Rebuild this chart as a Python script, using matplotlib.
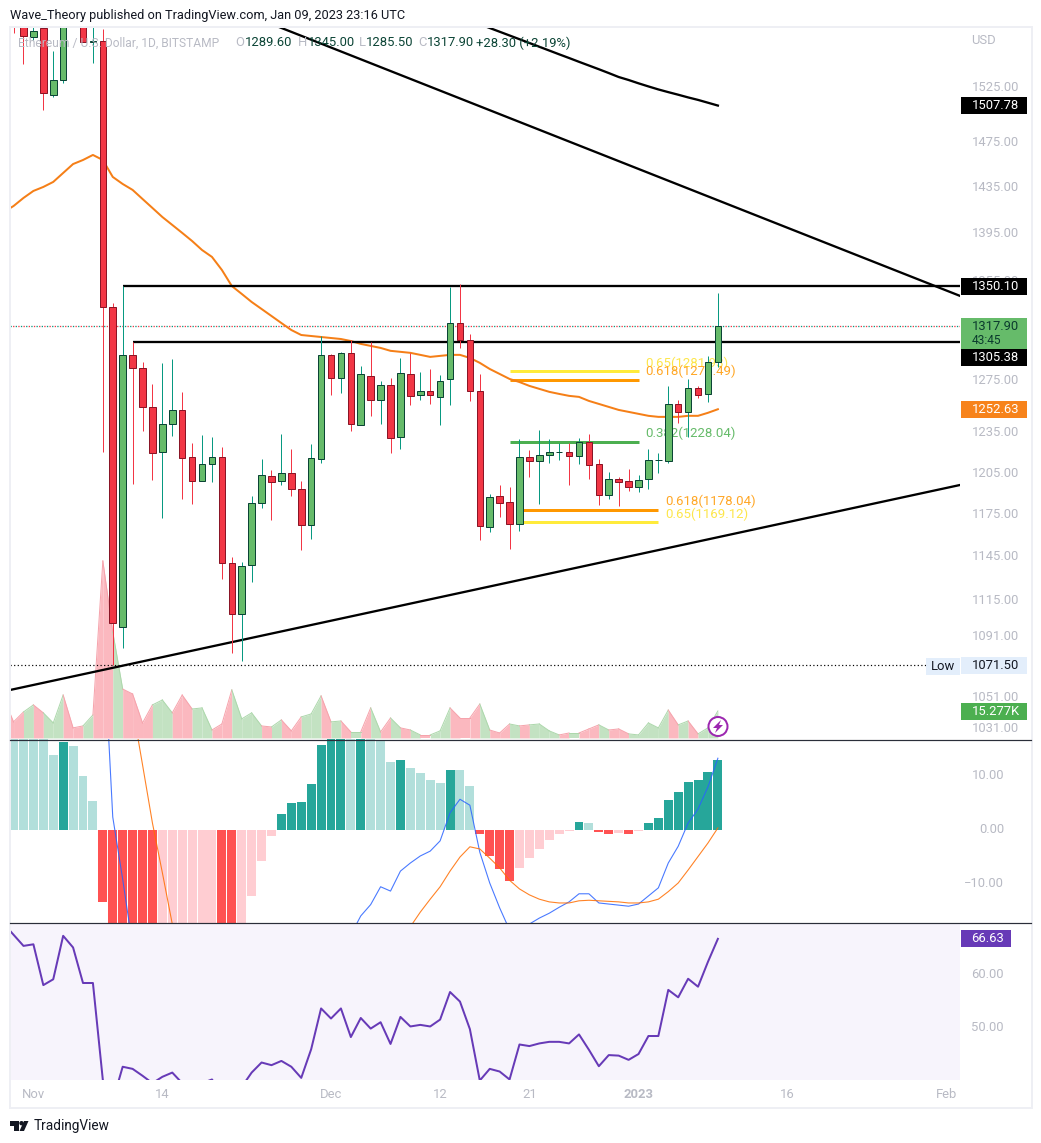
import numpy as np
import matplotlib
matplotlib.use("Agg")
import matplotlib.pyplot as plt
from matplotlib.patches import Rectangle, Circle, Polygon
from matplotlib.transforms import ScaledTranslation

plt.rcParams['font.family'] = ['Roboto', 'DejaVu Sans']

W, H = 1041, 1143
FIRST_DAY = -3   # day number relative to 1 Nov 2022

opens = [1630,1600,1590,1572.3,1581,1517.6,1531.5,1610,1600,1567.5,1568.4,
 1333.3,1096.7,1294.9,1284.6,1254.4,1220.5,1241.5,1252.1,1216.7,1199,1211.5,1216.7,1140.4,1105.4,1139,1183,1202.6,1199,1204.9,1193.1,1167.2,
 1215.2,1294.9,1276.8,1296.5,1240.7,1278.4,1259.8,1271.4,1231.7,1279.9,1263.6,1266.7,1262.1,1276,1320.3,1306.7,1266.7,1165.8,1188,1183.7,
 1167.9,1216.7,1213.7,1218.2,1220.1,1220.5,1217.4,1228,1211.5,1188.8,1200.4,1199,1194.6,1200.4,1214.5,1213.7,1256.7,1250.6,1269,1264.4,1289.6]
highs = [1640,1610,1600,1585,1590,1558.9,1600,1620,1610,1590,1580,
 1336.6,1350.1,1305.2,1289.4,1272.1,1288.6,1291.7,1266,1227.2,1233.2,1231.7,1224.2,1144.6,1141.1,1188,1215.2,1207.1,1234,1222.7,1199,1226.4,
 1309.9,1295.7,1297.3,1306.7,1286.2,1305.2,1274.5,1276.8,1292.5,1296.5,1281.5,1283.8,1279.1,1349.7,1352.2,1311.5,1279.9,1189.5,1196.1,1194.6,
 1230.2,1222,1237,1230.2,1227.2,1227.2,1231,1234,1215.2,1205.6,1201.9,1207.8,1203.4,1222.7,1219.7,1270.6,1259.8,1276,1270.6,1294.1,1345]
lows = [1600,1576,1546.5,1569.3,1503.6,1515.7,1528.7,1585,1567.5,1547.4,1220,
 1071.5,1082.7,1196.8,1236.2,1199.7,1172.2,1232.5,1185.9,1182.3,1199,1198.3,1129.3,1079.4,1074.2,1127.2,1179.4,1170.8,1196.1,1188,1149.5,1157.3,
 1212.2,1263.6,1265.2,1236.2,1240.7,1247.6,1241.5,1219.7,1222.7,1255.9,1259.8,1256.7,1240.7,1255.9,1300.4,1259,1156.6,1162.2,1172.9,1150.2,
 1162.9,1201.9,1182.3,1212.2,1214.5,1196.1,1211.5,1200.4,1181.6,1185.9,1180.8,1191.7,1191,1193.1,1204.9,1212.2,1242.3,1231.7,1261.3,1258.2,1285.5]
closes = [1610,1590,1573.2,1578,1519.4,1531.5,1590,1590,1567.5,1568.4,1333.5,
 1099.3,1294.9,1284.6,1254.4,1219.7,1241.5,1252.1,1216,1199,1211.5,1216.7,1140.4,1105.4,1138.3,1183,1203.4,1198.3,1204.9,1193.1,1167.2,1216,
 1294.9,1276.8,1296.5,1241.5,1279.9,1259.8,1271.4,1231,1280.7,1262.9,1266.7,1263.6,1274.5,1320.3,1306.7,1266.7,1166.5,1187.3,1183,1167.9,
 1216.7,1213.7,1218.2,1220.5,1220.1,1217.4,1228,1210.8,1188.8,1200.4,1198.3,1194.6,1199.7,1214.5,1214.5,1256.7,1250.6,1269,1263.6,1289.4,1317.9]

ema50 = [1412.9,1418.1,1425.1,1431.2,1434.7,1439.1,1447,1454.9,1458.5,1463,1458.5,
 1443.5,1437.3,1432.1,1424.2,1416.4,1408.6,1401.8,1395,1388.1,1380.5,1374.7,1363.8,1350.5,1344,1337.4,1331.7,1326,1320.3,1314.7,1310.7,1309.9,
 1309.1,1308.3,1307.5,1305.9,1303.6,1302,1300.4,1298.1,1297.3,1296.5,1294.9,1293.3,1294.1,1294.9,1294.9,1292.5,1288.6,1283.8,1279.9,1276,
 1273.6,1270.6,1268.3,1266,1264.4,1262.9,1262.1,1259,1256.7,1254.4,1252.1,1250.6,1249.1,1247.6,1246.8,1246.8,1246.8,1247.6,1247.6,1249.9,1252.63]

ma200_days = list(range(45, 70))
ma200 = [1584.6,1580.9,1577.3,1573.7,1570.1,1566.5,1562.9,1559.3,1555.7,1552.2,1548.6,1545.1,1541.6,1538,1534.3,1531.5,1528.4,1525.5,1522.7,1520.2,1517.8,1515.3,1513,1510.4,1507.78]

volume_k = [22.6,9.1,14.7,18.7,14.2,8.5,24.3,5.7,6.8,13,100.2,
 60,27.7,24.9,8.5,18.7,21.5,14.2,24.3,16.4,17,4.5,7.9,27.2,10.8,14.2,6.8,6.2,10.2,4,11.9,13.6,
 23.8,9.1,9.6,3.4,3.4,17,3.4,11.3,5.7,4.5,1.7,1.7,4,17,11.3,11.3,19.2,4.5,2.8,7.9,
 6.8,7.4,7.9,4,1.7,2.8,2.8,5.1,7.4,4.5,5.1,2.3,1.7,8.5,5.7,15.8,7.4,9.6,2.3,5.7,15.277]

macd_hist = [27,26,25,24,22,13.8,16.2,15.4,9.9,5.2,-13.4,
 -22,-26,-30,-33,-35,-33,-31,-29,-27,-25,-23,-24,-25,-20,-12.3,-5.8,-1.2,2.8,4.9,5.1,8.4,
 15.6,18,20,19,20,18,16.4,12.5,12.8,11.4,10.4,9.1,8.6,11,11,8,-0.9,-4.9,-7.3,-9.6,
 -7.2,-5.3,-3.6,-2,-0.9,-0.2,1.4,1.2,-0.5,-0.75,-0.7,-0.75,-0.3,1.2,2.1,5.4,6.9,8.8,9.1,10.6,12.8]
macd_line = [60,58,56,54,52,50,48,46,44,42,38,
 2.3,-9.2,-21.6,-27,-32,-32,-31,-31,-30,-30,-29,-29,-29,-28,-28,-27,-27,-26,-26,-25,-25,
 -24,-24,-23,-19.5,-16,-13.9,-10.6,-11.4,-7.7,-6.2,-4.9,-4,-2.1,3.1,5.6,4.5,-4.2,-9.9,-14.5,-18.6,
 -19.5,-17.5,-16.4,-15.5,-14.4,-13.4,-11.9,-11.9,-13.6,-13.8,-14,-14.2,-13.8,-12.3,-10.8,-6.2,-3.1,1.2,3.8,7.9,13.2]
macd_signal = [70,68,66,64,62,60,58,56,54,50,46,
 44,33,22.7,12,1.2,-8,-17.5,-24,-27,-29,-30,-30,-30,-30,-30,-30,-30,-29,-29,-28,-28,
 -28,-27,-27,-26,-25,-25,-24,-23,-22,-18,-15.3,-12.9,-10.6,-7.7,-5.1,-3.2,-3.6,-5.3,-7.1,-9.4,
 -11,-12.1,-12.9,-13.4,-13.6,-13.6,-13.2,-13.1,-13.2,-13.3,-13.4,-13.6,-13.6,-13.4,-12.9,-11.5,-9.9,-7.5,-5,-2.5,0.3]

rsi = [69.5,67.4,65.3,65.6,57.9,59,67.2,65,58.3,58.3,40,
 36,42.5,42.1,40.8,39.4,40.6,41.4,39.4,38.7,39.4,40.1,37.5,36.9,38.7,41.4,43.3,42.8,43.6,42.5,40.4,45.8,
 53.5,51.6,53.5,48.1,51.7,49.7,50.9,46.8,51.9,50.1,50.4,50.1,51.4,56.6,54.8,49.6,39.9,42.1,41.6,40.1,
 46.7,46.4,46.9,47.2,47.2,46.9,48.6,45.7,42.6,44.7,44.6,43.8,44.9,48.3,48.3,57,55.6,59.1,57.6,62.3,66.63]

price_ticks = [1525,1475,1435,1395,1355,1315,1275,1235,1205,1175,1145,1115,1091,1051,1031]
macd_ticks = [10, 0, -10]
rsi_ticks = [60, 50]
date_ticks = [0, 13, 30, 41, 50, 61, 76, 92]
date_labels = ['Nov', '14', 'Dec', '12', '21', '2023', '16', 'Feb']

fib_rows = [('0.65(1281.93)', 1281.93, 48, 61, '#FFEB3B', '#FDE64B'),
            ('0.618(1275.49)', 1275.49, 48, 61, '#FF9800', '#FFA726'),
            ('0.382(1228.04)', 1228.04, 48, 61, '#4CAF50', '#66BB6A'),
            ('0.618(1178.04)', 1178.04, 49, 63, '#FF9800', '#FFA726'),
            ('0.65(1169.12)', 1169.12, 49, 63, '#FFEB3B', '#FDE64B')]
res_high, res_low, last_low = 1350.10, 1305.38, 1071.50
trend_up = ((24.75, 93.4), (1581.9, 1342.4))
trend_lo = ((-2.36, 93.4), (1055.3, 1196))

UP, DOWN = '#66BB6A', '#F23645'
UP_E, DOWN_E = '#0B4435', '#8A1526'
WICK_U, WICK_D = '#089981', '#F23645'
TICK = '#B8BAC4'
PX = 0.72

days = np.arange(FIRST_DAY, FIRST_DAY + len(closes))
XLIM = ((10 - 33.4) / 9.92, (960 - 33.4) / 9.92)

def axes_px(l, t, r, b, **kw):
    return fig.add_axes([l / W, 1 - b / H, (r - l) / W, (b - t) / H], **kw)

def nudge_labels(a, px):
    off = ScaledTranslation(0, px / 100, fig.dpi_scale_trans)
    for lbl in a.get_yticklabels():
        lbl.set_transform(lbl.get_transform() + off)

fig = plt.figure(figsize=(W / 100, H / 100), dpi=100, facecolor='white')

# ---- volume (own scale, under the price pane)
ax_v = axes_px(10, 28, 960, 739)
ax_v.set_zorder(1)
ax_v.set_xlim(*XLIM)
ax_v.set_ylim(-0.6, 402)
ax_v.axis('off')
vol = np.array(volume_k)
for i in range(len(vol) - 1):
    up = closes[i + 1] >= opens[i + 1]
    seg = [days[i], days[i + 1]]
    ax_v.fill_between(seg, 0, vol[i:i + 2], color='#C3E2C2' if up else '#FBB8BF', lw=0)
    ax_v.plot(seg, vol[i:i + 2], color='#ADD8AC' if up else '#F6A3AC', lw=1 * PX)

# ---- price pane
ax = axes_px(10, 28, 960, 739)
ax.set_zorder(2)
ax.patch.set_visible(False)
ax.set_yscale('log')
ax.set_xlim(*XLIM)
ax.set_ylim(1024.2, 1580.9)

ax.axhline(closes[-1], color=WICK_U, lw=1.3 * PX, ls=(0, (1, 3)), zorder=2)
ax.axhline(closes[-1], color=WICK_D, lw=1.3 * PX, ls=(2, (1, 3)), zorder=2)
ax.plot([XLIM[0], (926 - 33.4) / 9.92], [last_low, last_low], color='black', lw=1.2 * PX, ls=(0, (1, 2)), zorder=2)

for label, val, d0, d1, col, tcol in fib_rows:
    ax.plot([d0, d1], [val, val], color=col, lw=3 * PX, solid_capstyle='butt', zorder=3)
    ax.annotate(label, (d1 + 0.7, val), xytext=(0, 1.6 * PX), textcoords='offset points',
                color=tcol, fontsize=13.2 * PX, va='bottom', ha='left', zorder=3)

ax.plot(days, ema50, color='#F57F17', lw=2 * PX, zorder=4)
ax.plot(ma200_days, ma200, color='black', lw=2.3 * PX, zorder=4)
ax.plot(*trend_up, color='black', lw=2.3 * PX, zorder=4)
ax.plot(*trend_lo, color='black', lw=2.3 * PX, zorder=4)
ax.plot([9, XLIM[1]], [res_high, res_high], color='black', lw=2.3 * PX, zorder=4, solid_capstyle='butt')
ax.plot([10, XLIM[1]], [res_low, res_low], color='black', lw=2.3 * PX, zorder=4, solid_capstyle='butt')

o, h, l, c = map(np.array, (opens, highs, lows, closes))
is_up = c >= o
ax.vlines(days, l, h, colors=[WICK_U if u else WICK_D for u in is_up], lw=1 * PX, zorder=5)
ax.bar(days, np.abs(c - o), bottom=np.minimum(o, c), width=0.66,
       color=[UP if u else DOWN for u in is_up],
       edgecolor=[UP_E if u else DOWN_E for u in is_up], lw=1 * PX, zorder=6)

ax.set_xticks([])
ax.minorticks_off()
ax.yaxis.tick_right()
ax.set_yticks(price_ticks)
ax.set_yticklabels([f'{v:.2f}' for v in price_ticks], ha='right', color=TICK, fontsize=13 * PX)
ax.yaxis.set_tick_params(which='both', length=0, pad=59 * PX)
ax.yaxis.set_minor_locator(matplotlib.ticker.NullLocator())
nudge_labels(ax, 1)
for s in ax.spines.values():
    s.set_visible(False)

# ---- MACD pane
ax_m = axes_px(10, 739, 960, 923)
ax_m.set_xlim(*XLIM)
ax_m.set_ylim(-17.31, 16.76)
hist = np.array(macd_hist)
prev = np.r_[hist[0], hist[:-1]]
bar_cols = []
for v, p in zip(hist, prev):
    if v >= 0:
        bar_cols.append('#26A69A' if v > p else '#B2DFDB')
    else:
        bar_cols.append('#FF5252' if v < p else '#FFCDD2')
ax_m.bar(days, hist, width=0.9, color=bar_cols, lw=0, zorder=2)
ax_m.plot(days, macd_line, color='#2962FF', lw=1.1 * PX, zorder=3, alpha=.85)
ax_m.plot(days, macd_signal, color='#FF6D00', lw=1.1 * PX, zorder=3, alpha=.85)
ax_m.set_xticks([])
ax_m.yaxis.tick_right()
ax_m.set_yticks(macd_ticks)
ax_m.set_yticklabels(['10.00', '0.00', '\u221210.00'], ha='right', color=TICK, fontsize=13 * PX)
ax_m.tick_params(axis='y', length=0, pad=44 * PX)
nudge_labels(ax_m, 2)
for s in ax_m.spines.values():
    s.set_visible(False)

# ---- RSI pane
ax_r = axes_px(10, 923, 960, 1080, facecolor='#F7F4FC')
ax_r.set_xlim(*XLIM)
ax_r.set_ylim(40, 69.62)
ax_r.plot(days, rsi, color='#673AB7', lw=2 * PX, zorder=3)
ax_r.yaxis.tick_right()
ax_r.set_yticks(rsi_ticks)
ax_r.set_yticklabels(['60.00', '50.00'], ha='right', color=TICK, fontsize=13 * PX)
ax_r.tick_params(axis='y', length=0, pad=44 * PX)
nudge_labels(ax_r, 1)
ax_r.set_xticks(date_ticks)
ax_r.set_xticklabels(date_labels, color=TICK, fontsize=13 * PX)
ax_r.tick_params(axis='x', length=0, pad=8 * PX)
ax_r.get_xticklabels()[5].set_fontweight('bold')
for s in ax_r.spines.values():
    s.set_visible(False)

# ---- overlay in pixels: frame, labels
ov = fig.add_axes([0, 0, 1, 1], zorder=10)
ov.set_xlim(0, W)
ov.set_ylim(H, 0)
ov.axis('off')
ov.patch.set_visible(False)

ov.add_patch(Rectangle((9.5, 27), 1022, 1081, fill=False, ec='#EEEFF4', lw=2 * PX))
ov.plot([10, 1031], [739.5, 739.5], color='#2A2E39', lw=1.2 * PX)
ov.plot([10, 1031], [923, 923], color='#2A2E39', lw=1.2 * PX)

def ypx(a, v):
    return H - a.transData.transform((0, v))[1]

def box(y, text, bg, fg='white', x0=961, x1=1026.5, tx=1019, h=17):
    ov.add_patch(Rectangle((x0, y - h / 2), x1 - x0, h, fc=bg, ec='none', zorder=3))
    ov.text(tx, y, text, color=fg, ha='right', va='center', fontsize=13 * PX, zorder=4)

box(ypx(ax, ma200[-1]), '1507.78', 'black')
box(ypx(ax, res_high), '1350.10', 'black')
box(ypx(ax, ema50[-1]), '1252.63', '#F7831B')
box(ypx(ax, last_low), '1071.50', '#E3EEFB', fg='#131722')
ov.add_patch(Rectangle((926, 658), 34, 17, fc='#E3EEFB', ec='none', zorder=3))
ov.text(943, 666.5, 'Low', color='#131722', ha='center', va='center', fontsize=13 * PX, zorder=4)
ov.add_patch(Rectangle((961, 703), 66, 17, fc='#4CAF50', ec='none', zorder=3))
ov.text(1020, 711.5, '15.277K', color='white', ha='right', va='center', fontsize=13 * PX, zorder=4)
ov.add_patch(Rectangle((961, 318), 65.5, 31, fc=UP, ec='none', zorder=3))
ov.text(1019, 327, '1317.90', color='#0B3B2E', ha='right', va='center', fontsize=13 * PX, zorder=4)
ov.text(972, 340.5, '43:45', color='#0B3B2E', ha='left', va='center', fontsize=12 * PX, zorder=4)
box(357.5, '1305.38', 'black')
ov.add_patch(Rectangle((961, ypx(ax_r, rsi[-1]) - 8.5), 50, 17, fc='#673AB7', ec='none', zorder=3))
ov.text(1004, ypx(ax_r, rsi[-1]), '66.63', color='white', ha='right', va='center', fontsize=13 * PX, zorder=4)
ov.text(996, 41, 'USD', color=TICK, ha='right', va='center', fontsize=13 * PX)

ov.text(10, 15, 'Wave_Theory published on TradingView.com, Jan 09, 2023 23:16 UTC',
        color='#131722', ha='left', va='center', fontsize=12.8 * PX)
GREY = '#B8BAC4'
VAL = '#0B4435'
ov.text(18, 43, 'Ethereum / U.S. Dollar, 1D, BITSTAMP', color=GREY, ha='left', va='center',
        fontsize=12 * PX, zorder=1)
for x, t, col in [(235, 'O', GREY), (245, '1289.60', VAL),
                  (298, 'H', GREY), (308, '1345.00', VAL), (359, 'L', GREY), (366, '1285.50', VAL),
                  (418, 'C', GREY), (427, '1317.90', VAL), (476, '+28.30 (+2.19%)', VAL)]:
    ov.text(x, 43, t, color=col, ha='left', va='center', fontsize=13 * PX, zorder=1)

ov.add_patch(Circle((718, 726.5), 9.5, fc='white', ec='#9C27B0', lw=2 * PX, zorder=5))
ov.add_patch(Polygon([(721, 720), (713, 728), (717, 728), (715, 733), (723, 725), (719, 725)],
                     fc='#9C27B0', ec='none', zorder=6))

ov.add_patch(Polygon([(10, 1121), (18.5, 1121), (18.5, 1131), (14, 1131), (14, 1125.5), (10, 1125.5)],
                     fc='#131722', ec='none'))
ov.add_patch(Circle((21.5, 1123.2), 2.2, fc='#131722', ec='none'))
ov.add_patch(Polygon([(28.5, 1121), (24, 1131), (19.5, 1131), (24, 1121)], fc='#131722', ec='none'))
ov.text(33.5, 1126, 'TradingView', color='#131722', ha='left', va='center', fontsize=13.6 * PX)

fig.savefig('out.png', dpi=100)
